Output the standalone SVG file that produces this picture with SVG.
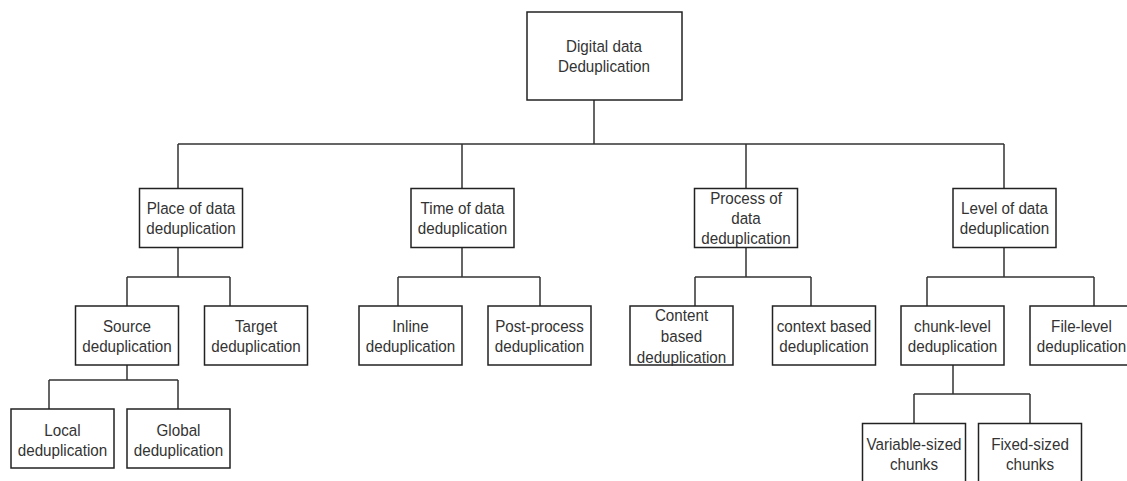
<svg xmlns="http://www.w3.org/2000/svg" width="1127" height="481" viewBox="0 0 1127 481">
  <style>
    .box { fill: #ffffff; stroke: #222222; stroke-width: 1.5; }
    .wire { fill: none; stroke: #333333; stroke-width: 1.5; }
    text { font-family: "Liberation Sans", Arial, sans-serif; font-size: 15.2px; fill: #333333; text-anchor: middle; }
  </style>
  <rect width="1127" height="481" fill="#ffffff"/>

  <!-- tree connectors -->
  <g id="connectors">
    <path class="wire" d="M594,100 V144 M178,144 H1004 M178,144 V188 M462,144 V188 M746,144 V188 M1004,144 V188"/>
    <path class="wire" d="M178,247 V277 M127,277 H230 M127,277 V306 M230,277 V306"/>
    <path class="wire" d="M127,365 V380 M49,380 H178 M49,380 V409 M178,380 V409"/>
    <path class="wire" d="M462,247 V277 M398,277 H540 M398,277 V306 M540,277 V306"/>
    <path class="wire" d="M746,247 V277 M695,277 H811 M695,277 V306 M811,277 V306"/>
    <path class="wire" d="M1004,247 V277 M927,277 H1094 M927,277 V306 M1094,277 V306"/>
    <path class="wire" d="M953,365 V394 M914,394 H1030 M914,394 V423 M1030,394 V423"/>
  </g>

  <g id="root">
    <rect class="box" x="527" y="12" width="155" height="88"/>
    <text transform="translate(604,52) scale(1,1.13)">Digital data</text>
    <text transform="translate(604,72) scale(1,1.13)">Deduplication</text>
  </g>

  <g id="place">
    <rect class="box" x="139.5" y="188.5" width="103" height="59"/>
    <text transform="translate(191,214) scale(1,1.13)">Place of data</text>
    <text transform="translate(191,234) scale(1,1.13)">deduplication</text>
  </g>

  <g id="time">
    <rect class="box" x="411" y="188.5" width="103" height="59"/>
    <text transform="translate(462.5,214) scale(1,1.13)">Time of data</text>
    <text transform="translate(462.5,234) scale(1,1.13)">deduplication</text>
  </g>

  <g id="process">
    <rect class="box" x="694.5" y="188.5" width="103" height="59"/>
    <text transform="translate(746,203.5) scale(1,1.13)">Process of</text>
    <text transform="translate(746,223.5) scale(1,1.13)">data</text>
    <text transform="translate(746,243.5) scale(1,1.13)">deduplication</text>
  </g>

  <g id="level">
    <rect class="box" x="953" y="188.5" width="103" height="59"/>
    <text transform="translate(1004.5,214) scale(1,1.13)">Level of data</text>
    <text transform="translate(1004.5,234) scale(1,1.13)">deduplication</text>
  </g>

  <g id="source">
    <rect class="box" x="75.5" y="306" width="103" height="59"/>
    <text transform="translate(127,331.5) scale(1,1.13)">Source</text>
    <text transform="translate(127,351.5) scale(1,1.13)">deduplication</text>
  </g>

  <g id="target">
    <rect class="box" x="204.5" y="306" width="103" height="59"/>
    <text transform="translate(256,331.5) scale(1,1.13)">Target</text>
    <text transform="translate(256,351.5) scale(1,1.13)">deduplication</text>
  </g>

  <g id="inline">
    <rect class="box" x="359" y="306" width="103" height="59"/>
    <text transform="translate(410.5,331.5) scale(1,1.13)">Inline</text>
    <text transform="translate(410.5,351.5) scale(1,1.13)">deduplication</text>
  </g>

  <g id="post-process">
    <rect class="box" x="488" y="306" width="103" height="59"/>
    <text transform="translate(539.5,331.5) scale(1,1.13)">Post-process</text>
    <text transform="translate(539.5,351.5) scale(1,1.13)">deduplication</text>
  </g>

  <g id="content">
    <rect class="box" x="630" y="306" width="103" height="59"/>
    <text transform="translate(681.5,320.5) scale(1,1.13)">Content</text>
    <text transform="translate(681.5,341.5) scale(1,1.13)">based</text>
    <text transform="translate(681.5,362.5) scale(1,1.13)">deduplication</text>
  </g>

  <g id="context">
    <rect class="box" x="772.5" y="306" width="103" height="59"/>
    <text transform="translate(824,331.5) scale(1,1.13)">context based</text>
    <text transform="translate(824,351.5) scale(1,1.13)">deduplication</text>
  </g>

  <g id="chunk">
    <rect class="box" x="901" y="306" width="103" height="59"/>
    <text transform="translate(952.5,331.5) scale(1,1.13)">chunk-level</text>
    <text transform="translate(952.5,351.5) scale(1,1.13)">deduplication</text>
  </g>

  <g id="file">
    <rect class="box" x="1030" y="306" width="103" height="59"/>
    <text transform="translate(1081.5,331.5) scale(1,1.13)">File-level</text>
    <text transform="translate(1081.5,351.5) scale(1,1.13)">deduplication</text>
  </g>

  <g id="local">
    <rect class="box" x="11" y="409" width="103" height="59"/>
    <text transform="translate(62.5,435.5) scale(1,1.13)">Local</text>
    <text transform="translate(62.5,455.5) scale(1,1.13)">deduplication</text>
  </g>

  <g id="global">
    <rect class="box" x="127" y="409" width="103" height="59"/>
    <text transform="translate(178.5,435.5) scale(1,1.13)">Global</text>
    <text transform="translate(178.5,455.5) scale(1,1.13)">deduplication</text>
  </g>

  <g id="variable">
    <rect class="box" x="862.5" y="423.5" width="103" height="59"/>
    <text transform="translate(914,450) scale(1,1.13)">Variable-sized</text>
    <text transform="translate(914,469.5) scale(1,1.13)">chunks</text>
  </g>

  <g id="fixed">
    <rect class="box" x="978.5" y="423.5" width="103" height="59"/>
    <text transform="translate(1030,450) scale(1,1.13)">Fixed-sized</text>
    <text transform="translate(1030,469.5) scale(1,1.13)">chunks</text>
  </g>
</svg>
